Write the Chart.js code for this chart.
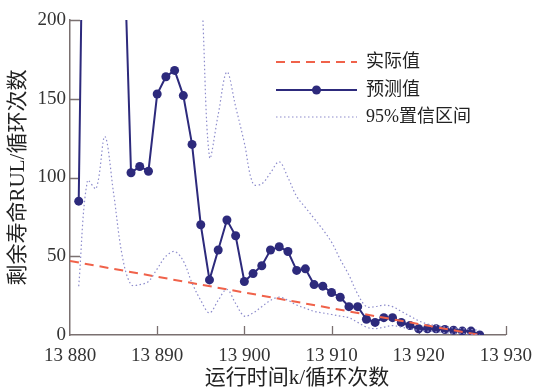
<!DOCTYPE html>
<html>
<head>
<meta charset="utf-8">
<script src="https://cdn.jsdelivr.net/npm/chart.js@4/dist/chart.umd.min.js"></script>
<style>
  html, body { margin: 0; padding: 0; background: #fff; }
  #wrap { width: 542px; height: 388px; }
</style>
</head>
<body>
<div id="wrap"><canvas id="rul" width="542" height="388"></canvas></div>
<script>
// cycle numbers for the predicted / confidence series
const cycles = [13881, 13882, 13883, 13884, 13885, 13886, 13887, 13888, 13889, 13890,
  13891, 13892, 13893, 13894, 13895, 13896, 13897, 13898, 13899, 13900,
  13901, 13902, 13903, 13904, 13905, 13906, 13907, 13908, 13909, 13910,
  13911, 13912, 13913, 13914, 13915, 13916, 13917, 13918, 13919, 13920,
  13921, 13922, 13923, 13924, 13925, 13926, 13927];

// 预测值 (values above 200 run off the top of the plot)
const predicted = [85, 490, 600, 560, 430, 285, 103, 107, 104, 153,
  164, 168, 152, 121, 70, 35, 54, 73, 63, 34,
  39, 44, 54, 56, 53, 41, 42, 32, 31, 27,
  24, 18, 18, 10, 8, 11, 11, 8, 6, 4,
  4, 4, 3.5, 3, 2.5, 2.5, 0];

// 95%置信区间
const upper95 = [260, 450, 520, 500, 420, 330, 300, 290, 300, 320,
  330, 320, 300, 270, 225, 113, 140, 167, 145, 122,
  96, 96, 103, 110, 100, 88, 81, 74, 67, 59,
  48, 38, 26, 18, 18, 19, 18, 15, 12, 9,
  7, 6, 5, 4.5, 4, 3.5, 3];
const lower95 = [31, 98, 93, 126, 90, 50, 32, 32, 34, 42,
  50, 53, 47, 33, 22, 14, 22, 29, 20, 12,
  14, 18, 22, 24, 22, 19, 17, 15, 14, 13,
  12, 11, 8, 5, 4, 5, 6, 5, 4, 3,
  2.5, 2, 1.5, 1, 1, 0.5, 0];

// 实际值
const actualCycles = [13880, 13927];
const actualRul = [47, 0];

const xTickMarks = [13890, 13900, 13910, 13920, 13930];
const yTickMarks = [50, 100, 150, 200];

const legendItems = ['实际值', '预测值', '95%置信区间'];
const xTitle = '运行时间k/循环次数';
const yTitle = '剩余寿命RUL/循环次数';

const navy = '#2d2a7c';
const red = '#f0624a';
const band = '#8d8ccc';
const axisColor = '#7a7070';
const textFont = "'Liberation Serif', 'Noto Sans CJK SC', serif";

function pts(xs, ys) {
  return xs.map((x, i) => ({ x: x, y: ys[i] }));
}

const frame = {
  id: 'frame',
  beforeDatasetsDraw(chart) {
    const ctx = chart.ctx, a = chart.chartArea;
    const xs = chart.scales.x, ys = chart.scales.y;
    ctx.save();
    ctx.strokeStyle = axisColor;
    ctx.lineWidth = 1.3;
    ctx.beginPath();
    yTickMarks.forEach(v => {
      const y = Math.round(ys.getPixelForValue(v)) + 0.5;
      ctx.moveTo(a.left, y); ctx.lineTo(a.left + 10, y);
    });
    xTickMarks.forEach(v => {
      const x = Math.round(xs.getPixelForValue(v)) + 0.5;
      ctx.moveTo(x, a.bottom); ctx.lineTo(x, a.bottom - 9);
    });
    ctx.stroke();
    ctx.restore();
  },
  afterDraw(chart) {
    const ctx = chart.ctx, a = chart.chartArea;
    ctx.save();
    // legend
    const x0 = 276, x1 = 357, rows = [62, 90, 117];
    ctx.lineWidth = 2;
    ctx.strokeStyle = red;
    ctx.setLineDash([9, 6]);
    ctx.beginPath(); ctx.moveTo(x0, rows[0]); ctx.lineTo(x1, rows[0]); ctx.stroke();
    ctx.strokeStyle = navy;
    ctx.setLineDash([]);
    ctx.beginPath(); ctx.moveTo(x0, rows[1]); ctx.lineTo(x1, rows[1]); ctx.stroke();
    ctx.fillStyle = navy;
    ctx.beginPath(); ctx.arc((x0 + x1) / 2, rows[1], 4.5, 0, Math.PI * 2); ctx.fill();
    ctx.strokeStyle = band;
    ctx.lineWidth = 1.2;
    ctx.setLineDash([1.5, 2.5]);
    ctx.beginPath(); ctx.moveTo(x0, rows[2]); ctx.lineTo(x1, rows[2]); ctx.stroke();
    ctx.setLineDash([]);
    ctx.fillStyle = '#222';
    ctx.font = '18px ' + textFont;
    ctx.textAlign = 'left';
    ctx.textBaseline = 'middle';
    legendItems.forEach((t, i) => ctx.fillText(t, 366, rows[i]));
    // axis titles
    ctx.font = '21px ' + textFont;
    ctx.textAlign = 'center';
    ctx.fillText(xTitle, 297, 378);
    ctx.translate(18, (a.top + a.bottom) / 2);
    ctx.rotate(-Math.PI / 2);
    ctx.fillText(yTitle, 0, 0);
    ctx.restore();
  }
};

const ctx = document.getElementById('rul');
new Chart(ctx, {
  type: 'line',
  data: {
    datasets: [
      {
        label: '95%置信区间 上',
        data: pts(cycles, upper95),
        borderColor: band, borderWidth: 1.2, borderDash: [1.5, 2.5],
        pointRadius: 0, tension: 0.35, fill: false
      },
      {
        label: '95%置信区间 下',
        data: pts(cycles, lower95),
        borderColor: band, borderWidth: 1.2, borderDash: [1.5, 2.5],
        pointRadius: 0, tension: 0.35, fill: false
      },
      {
        label: '实际值',
        data: pts(actualCycles, actualRul),
        borderColor: red, borderWidth: 2, borderDash: [9, 6],
        pointRadius: 0, fill: false
      },
      {
        label: '预测值',
        data: pts(cycles, predicted),
        borderColor: navy, borderWidth: 2,
        pointRadius: 4.5, pointBackgroundColor: navy, pointBorderColor: navy,
        pointBorderWidth: 0, fill: false
      }
    ]
  },
  options: {
    responsive: false,
    animation: false,
    devicePixelRatio: 1,
    layout: { padding: { top: 20, right: 34, left: 0, bottom: 0 } },
    plugins: { legend: { display: false }, tooltip: { enabled: false } },
    scales: {
      x: {
        type: 'linear', min: 13880, max: 13930,
        grid: { display: false, drawTicks: false },
        border: { display: true, color: axisColor, width: 1.5 },
        afterFit: s => { s.height = 53; },
        ticks: {
          stepSize: 10, padding: 10, color: '#333', maxRotation: 0,
          font: { family: 'Liberation Serif', size: 19 },
          callback: v => String(v).slice(0, 2) + ' ' + String(v).slice(2)
        }
      },
      y: {
        min: 0, max: 200,
        grid: { display: false, drawTicks: false },
        border: { display: true, color: axisColor, width: 1.5 },
        afterFit: s => { s.width = 70; },
        ticks: {
          stepSize: 50, padding: 4, color: '#333',
          font: { family: 'Liberation Serif', size: 19 }
        }
      }
    }
  },
  plugins: [frame]
});
</script>
</body>
</html>
